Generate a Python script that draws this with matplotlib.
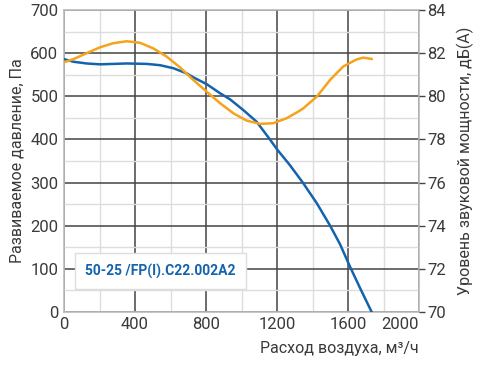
import matplotlib.pyplot as plt
from matplotlib.ticker import MultipleLocator

# pressure curve, Pa vs m3/h
flow_p = [0, 53, 128, 203, 353, 466, 541, 616, 691, 728, 804, 879, 935, 1010,
          1085, 1158, 1200, 1273, 1345, 1424, 1499, 1555, 1611, 1667, 1733]
pressure = [586, 580, 576, 574, 576, 575, 572, 565, 553, 544, 528, 507, 493,
            468, 441, 401, 377, 340, 300, 252, 200, 157, 105, 56, 0]

# sound power, dB(A) vs m3/h
flow_s = [0, 53, 128, 203, 278, 353, 428, 503, 578, 653, 728, 804, 879, 954,
          1029, 1104, 1179, 1254, 1320, 1348, 1424, 1499, 1573, 1649, 1686, 1733]
sound = [81.58, 81.72, 82.00, 82.27, 82.46, 82.55, 82.48, 82.22, 81.84, 81.34,
         80.76, 80.21, 79.68, 79.21, 78.87, 78.72, 78.75, 78.98, 79.29, 79.44,
         79.98, 80.76, 81.38, 81.71, 81.79, 81.73]

model = "50-25 /FP(I).C22.002A2"

txt = "#3a3a3a"
blue = "#1463ad"
orange = "#f5a31a"

plt.rcParams["font.family"] = ["Roboto", "DejaVu Sans"]

fig = plt.figure(figsize=(4.97, 3.70), dpi=100)
ax = fig.add_axes([0.1288, 0.157, 0.7143, 0.816])

ax.set_xlim(0, 2000)
ax.set_ylim(0, 700)
ax.set_xticks([0, 400, 800, 1200, 1600, 2000])
ax.xaxis.set_minor_locator(MultipleLocator(200))
ax.yaxis.set_major_locator(MultipleLocator(100))
ax.yaxis.set_minor_locator(MultipleLocator(50))
ax.grid(which="minor", color="#dddddd", lw=1)
ax.grid(which="major", color="#444444", lw=1.1)
ax.set_axisbelow(True)
for s in ax.spines.values():
    s.set_color("#bbbbbb")
    s.set_linewidth(1.2)
ax.tick_params(which="both", length=0, labelsize=12, colors=txt, pad=4)

ax.plot(flow_p, pressure, color=blue, lw=1.8, zorder=3,
        solid_joinstyle="round")
ax.set_xlabel("Расход воздуха, м³/ч", fontsize=11.5, color=txt, loc="right", labelpad=6)
ax.set_ylabel("Развиваемое давление, Па", fontsize=11.5, color=txt, labelpad=4)

ax2 = ax.twinx()
ax2.set_ylim(70, 84)
ax2.yaxis.set_major_locator(MultipleLocator(2))
ax2.tick_params(length=4, width=1, color="#444444", labelsize=12, colors=txt, pad=2)
for s in ax2.spines.values():
    s.set_visible(False)
ax2.plot(flow_s, sound, color=orange, lw=1.8, zorder=3,
         solid_joinstyle="round")
ax2.set_ylabel("Уровень звуковой мощности, дБ(А)", fontsize=11.5, color=txt, labelpad=8)

ax.text(0.06, 0.135, model, transform=ax.transAxes, fontsize=10, color=blue,
        fontweight="bold", va="center", ha="left", zorder=5,
        bbox=dict(boxstyle="square,pad=0.75", fc="white", ec="#dddddd", lw=1))

# last x label sits flush with the right edge, clear of the "70"
fig.canvas.draw()
ax.xaxis.get_major_ticks()[-1].label1.set_horizontalalignment("right")

fig.savefig("out.png", dpi=100)
